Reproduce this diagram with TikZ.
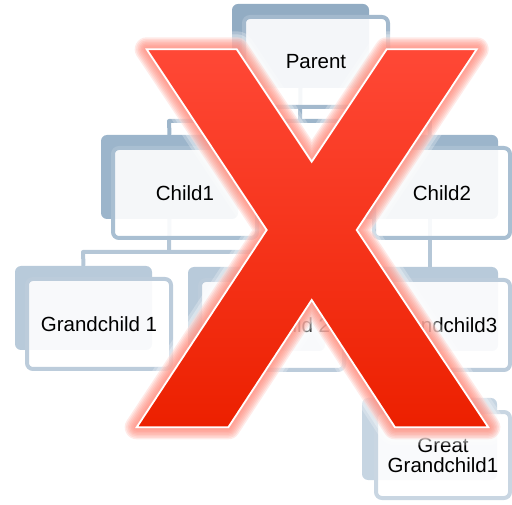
\documentclass[tikz,border=0pt]{standalone}
\usepackage{fontspec}
\setmainfont{Liberation Sans}
\definecolor{bkA}{HTML}{92ACC3}
\definecolor{bkB}{HTML}{9CB5CB}
\definecolor{bkC}{HTML}{B8CADA}
\definecolor{bkD}{HTML}{C6D5E2}
\definecolor{frA}{HTML}{A3B9CD}
\definecolor{frB}{HTML}{A9BFD2}
\definecolor{frC}{HTML}{BCCCDB}
\definecolor{frD}{HTML}{C9D6E2}
\definecolor{lnA}{HTML}{9DB5CA}
\definecolor{lnB}{HTML}{B5C7D7}
\definecolor{xtop}{HTML}{FF4836}
\definecolor{xbot}{HTML}{EC2000}
\definecolor{glowA}{HTML}{FF8070}
\tikzset{
  backbox/.style={rectangle, rounded corners=6pt, inner sep=0pt, minimum width=137pt, minimum height=84pt},
  frontbox/.style={rectangle, rounded corners=6pt, inner sep=0pt, line width=4pt, fill=white, fill opacity=0.9, text opacity=1, minimum width=144pt, minimum height=90pt, font=\fontsize{20.5}{20}\selectfont, align=center},
  conn/.style={line width=4pt},
  glowline/.style={line join=round, glowA, opacity=0.16},
}
\begin{document}
\begin{tikzpicture}[x=1pt,y=-1pt]
\useasboundingbox (0,0) rectangle (512,505);
% connector anchor coordinates
\coordinate (j1) at (300,121);
\coordinate (j1l) at (169,121);
\coordinate (j1r) at (430,121);
\coordinate (j2) at (169,252);
\coordinate (j2l) at (83,252);
\coordinate (j2r) at (256,252);
% back boxes
\node[backbox, fill=bkA] (pB) at (300.5,46) {};
\node[backbox, fill=bkB] (c1B) at (169.5,177) {};
\node[backbox, fill=bkB] (c2B) at (429.5,177) {};
\node[backbox, fill=bkC] (g1B) at (83.5,308) {};
\node[backbox, fill=bkC] (g2B) at (256.5,309) {};
\node[backbox, fill=bkC] (g3B) at (429.5,309) {};
\node[backbox, fill=bkD, minimum width=135pt, minimum height=82pt] (ggB) at (429.5,439) {};
% connectors
\draw[conn, lnA] (pB.south) -- (j1);
\draw[conn, lnA, line join=round] (c1B.north) -- (j1l) -- (j1r) -- (c2B.north);
\draw[conn, lnB] (c1B.south) -- (j2);
\draw[conn, lnB, line join=round] (g1B.north) -- (j2l) -- (j2r) -- (g2B.north);
\draw[conn, lnB] (c2B.south) -- (g3B.north);
\draw[conn, lnB] (g3B.south) -- (ggB.north);
% front boxes
\node[frontbox, draw=frA] (p) at (316,62) {Parent};
\node[frontbox, draw=frB] (c1) at (185,193) {Child1};
\node[frontbox, draw=frB, minimum width=136pt] (c2) at (442,193) {Child2};
\node[frontbox, draw=frC] (g1) at (99,324) {Grandchild 1};
\node[frontbox, draw=frC] (g2) at (272,325) {Grandchild 2};
\node[frontbox, draw=frC, minimum width=136pt] (g3) at (442,325) {Grandchild3};
\node[frontbox, draw=frD, minimum width=134pt, minimum height=86pt] (gg) at (443,455) {Great\\Grandchild1};
% big red X
\def\xshape{(146.7,49.3) -- (236.7,49.3) -- (311.7,161.7) -- (386.7,49.3) -- (476.7,49.3) -- (356.7,230) -- (488.3,427.3) -- (395,427.3) -- (311.7,300) -- (228.3,427.3) -- (136.7,427.3) -- (266.7,230) -- cycle}
\draw[line join=round, white, opacity=0.25, line width=36pt] \xshape;
\draw[line join=round, white, opacity=0.3, line width=30pt] \xshape;
\draw[line join=round, white, opacity=0.4, line width=24pt] \xshape;
\draw[glowline, line width=24pt] \xshape;
\draw[glowline, line width=21pt] \xshape;
\draw[glowline, line width=18pt] \xshape;
\draw[glowline, line width=15pt] \xshape;
\draw[glowline, line width=12pt] \xshape;
\draw[glowline, line width=9pt] \xshape;
\draw[glowline, line width=6pt] \xshape;
\path[top color=xtop, bottom color=xbot] \xshape;
\draw[line join=miter, white, line width=1.8pt] \xshape;
\end{tikzpicture}
\end{document}
